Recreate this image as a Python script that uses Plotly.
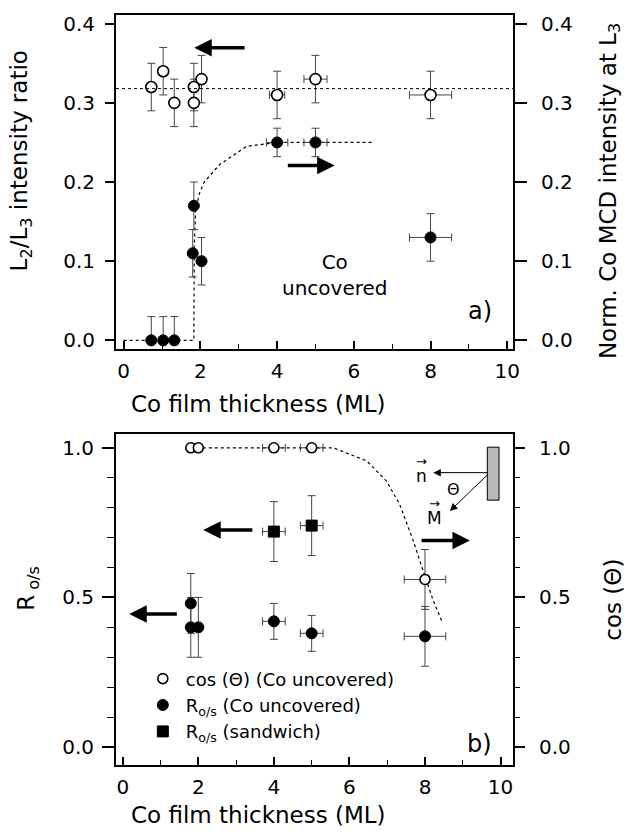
import plotly.graph_objects as go

FONT = "DejaVu Sans"

# ---------------- Panel a) data ----------------
# L2/L3 intensity ratio (open circles, left axis)
a_ratio_x = [0.72, 1.03, 1.32, 1.83, 1.83, 2.03, 4.0, 5.0, 8.0]
a_ratio_y = [0.32, 0.34, 0.30, 0.32, 0.30, 0.33, 0.31, 0.33, 0.31]
a_ratio_yerr = [0.03, 0.03, 0.03, 0.03, 0.03, 0.03, 0.03, 0.03, 0.03]
a_ratio_xerr = [0, 0, 0, 0, 0, 0, 0.2, 0.3, 0.55]
a_ratio_mean = [0.318]

# Norm. Co MCD intensity at L3 (filled circles, right axis)
a_mcd_x = [0.72, 1.03, 1.32, 1.83, 1.80, 2.03, 4.0, 5.0, 8.0]
a_mcd_y = [0.0, 0.0, 0.0, 0.17, 0.11, 0.10, 0.25, 0.25, 0.13]
a_mcd_yerr_up = [0.03, 0.03, 0.03, 0.03, 0.03, 0.03, 0.018, 0.018, 0.03]
a_mcd_yerr_dn = [0.0, 0.0, 0.0, 0.03, 0.03, 0.03, 0.018, 0.018, 0.03]
a_mcd_xerr = [0, 0, 0, 0, 0, 0, 0.28, 0.3, 0.55]

# guide-to-the-eye curve
a_fit_x = [0.0, 1.83, 1.84, 1.88, 1.97, 2.1, 2.5, 3.2, 4.0, 6.5]
a_fit_y = [0.0, 0.0, 0.12, 0.165, 0.185, 0.20, 0.222, 0.245, 0.25, 0.25]

# ---------------- Panel b) data ----------------
b_cos_x = [1.8, 2.0, 4.0, 5.0, 8.0]
b_cos_y = [1.0, 1.0, 1.0, 1.0, 0.56]
b_cos_yerr = [0, 0, 0, 0, 0.1]
b_cos_xerr = [0, 0, 0.3, 0.3, 0.55]

b_ros_x = [1.8, 1.8, 2.0, 4.0, 5.0, 8.0]
b_ros_y = [0.48, 0.40, 0.40, 0.42, 0.38, 0.37]
b_ros_yerr = [0.1, 0.1, 0.1, 0.06, 0.06, 0.1]
b_ros_xerr = [0, 0, 0, 0.3, 0.3, 0.55]

b_sand_x = [4.0, 5.0]
b_sand_y = [0.72, 0.74]
b_sand_yerr = [0.1, 0.1]
b_sand_xerr = [0.3, 0.3]

b_fit_x = [1.8, 5.0, 5.57, 6.46, 6.98, 7.33, 7.69, 7.95, 8.22, 8.44]
b_fit_y = [1.0, 1.0, 1.0, 0.956, 0.889, 0.811, 0.689, 0.589, 0.489, 0.422]

x_ticks = [0, 2, 4, 6, 8, 10]
a_y_ticks = [0.0, 0.1, 0.2, 0.3, 0.4]
b_y_ticks = [0.0, 0.5, 1.0]

ERR = "#444444"


def err(arr, minus=None, w=4):
    d = dict(type="data", array=arr, color=ERR, thickness=1, width=w)
    if minus is not None:
        d["symmetric"] = False
        d["arrayminus"] = minus
    return d


fig = go.Figure()

# ---- panel a traces ----
fig.add_trace(go.Scatter(x=a_fit_x, y=a_fit_y, mode="lines", xaxis="x", yaxis="y2",
                         line=dict(color="black", width=1.2, dash="3px,3px"),
                         showlegend=False, hoverinfo="skip"))
fig.add_trace(go.Scatter(x=a_ratio_x, y=a_ratio_y, mode="markers", xaxis="x", yaxis="y",
                         marker=dict(symbol="circle", size=11, color="white",
                                     line=dict(color="black", width=1.6)),
                         error_y=err(a_ratio_yerr), error_x=err(a_ratio_xerr),
                         showlegend=False))
fig.add_trace(go.Scatter(x=a_mcd_x, y=a_mcd_y, mode="markers", xaxis="x", yaxis="y2",
                         marker=dict(symbol="circle", size=11, color="black",
                                     line=dict(color="black", width=1)),
                         error_y=err(a_mcd_yerr_up, a_mcd_yerr_dn), error_x=err(a_mcd_xerr),
                         showlegend=False))

# ---- panel b traces ----
fig.add_trace(go.Scatter(x=b_fit_x, y=b_fit_y, mode="lines", xaxis="x2", yaxis="y4",
                         line=dict(color="black", width=1.2, dash="3px,3px"),
                         showlegend=False, hoverinfo="skip"))
fig.add_trace(go.Scatter(x=b_cos_x, y=b_cos_y, mode="markers", xaxis="x2", yaxis="y4",
                         name="cos (\u0398) (Co uncovered)",
                         marker=dict(symbol="circle", size=10, color="white",
                                     line=dict(color="black", width=1.6)),
                         error_y=err(b_cos_yerr), error_x=err(b_cos_xerr)))
fig.add_trace(go.Scatter(x=b_ros_x, y=b_ros_y, mode="markers", xaxis="x2", yaxis="y3",
                         name="R<sub>o/s</sub> (Co uncovered)",
                         marker=dict(symbol="circle", size=11, color="black",
                                     line=dict(color="black", width=1)),
                         error_y=err(b_ros_yerr), error_x=err(b_ros_xerr)))
fig.add_trace(go.Scatter(x=b_sand_x, y=b_sand_y, mode="markers", xaxis="x2", yaxis="y3",
                         name="R<sub>o/s</sub> (sandwich)",
                         marker=dict(symbol="square", size=11, color="black",
                                     line=dict(color="black", width=1)),
                         error_y=err(b_sand_yerr), error_x=err(b_sand_xerr)))

# mean ratio line (panel a)
for v in a_ratio_mean:
    fig.add_shape(type="line", xref="x domain", yref="y", x0=0, x1=1, y0=v, y1=v,
                  line=dict(color="black", width=1, dash="dot"))

# inset: sample sketch (panel b)
fig.add_shape(type="rect", xref="x2", yref="y4", x0=9.65, x1=9.96, y0=0.825, y1=1.002,
              fillcolor="#b8b8b8", line=dict(color="black", width=1))

xcommon = dict(showline=True, linewidth=2, linecolor="black", mirror=True,
               showgrid=False, zeroline=False, tickvals=x_ticks,
               ticks="inside", ticklen=8, tickwidth=1.5, tickcolor="black",
               ticklabelstandoff=3,
               minor=dict(dtick=1, tick0=0, ticks="inside", ticklen=5, tickwidth=1.2,
                          tickcolor="black", showgrid=False),
               tickfont=dict(family=FONT, size=20, color="black"))
ycommon = dict(showline=True, linewidth=2, linecolor="black", showgrid=False,
               zeroline=False, ticks="outside", tickwidth=1.5, tickcolor="black",
               tickformat=".1f", tickfont=dict(family=FONT, size=20, color="black"))

fig.update_layout(
    width=629, height=832,
    margin=dict(l=116, r=116, t=12, b=67),
    paper_bgcolor="white", plot_bgcolor="white",
    font=dict(family=FONT, size=19, color="black"),
    showlegend=True,
    legend=dict(x=0.06, y=0.1395, xanchor="left", yanchor="top",
                font=dict(family=FONT, size=18, color="black"), itemwidth=36,
                bgcolor="rgba(0,0,0,0)", borderwidth=0, tracegroupgap=0),
    xaxis=dict(domain=[0, 1], anchor="y", range=[-0.2, 10.15], **xcommon),
    yaxis=dict(domain=[0.5551, 1.0], anchor="x", range=[-0.0105, 0.411],
               tickvals=a_y_ticks, ticklen=9, ticklabelstandoff=6, **ycommon),
    yaxis2=dict(overlaying="y", side="right", anchor="x", range=[-0.0105, 0.411],
                tickvals=a_y_ticks, ticklen=12, ticklabelstandoff=10, **ycommon),
    xaxis2=dict(domain=[0, 1], anchor="y3", range=[-0.18, 10.33], **xcommon),
    yaxis3=dict(domain=[0, 0.4409], anchor="x2", range=[-0.06, 1.045],
                tickvals=b_y_ticks, ticklen=12, ticklabelstandoff=4,
                minor=dict(dtick=0.1, tick0=0, ticks="outside", ticklen=7, tickwidth=1.2,
                           tickcolor="black", showgrid=False),
                **ycommon),
    yaxis4=dict(overlaying="y3", side="right", anchor="x2", range=[-0.06, 1.045],
                tickvals=b_y_ticks, ticklen=10, ticklabelstandoff=10,
                minor=dict(dtick=0.1, tick0=0, ticks="outside", ticklen=5, tickwidth=1.2,
                           tickcolor="black", showgrid=False),
                **ycommon),
)

ann = []
TF = dict(family=FONT, size=23, color="black")
# axis titles
ann.append(dict(text="Co film thickness (ML)", xref="paper", yref="paper", x=0.359, y=0.482,
                showarrow=False, font=TF, xanchor="center", yanchor="middle"))
ann.append(dict(text="Co film thickness (ML)", xref="paper", yref="paper", x=0.359, y=-0.0664,
                showarrow=False, font=TF, xanchor="center", yanchor="middle"))
ann.append(dict(text="L<sub>2</sub>/L<sub>3</sub> intensity ratio", xref="paper", yref="paper",
                x=-0.237, y=0.806, textangle=-90, showarrow=False, font=TF,
                xanchor="center", yanchor="middle"))
ann.append(dict(text="Norm. Co MCD intensity at L<sub>3</sub>", xref="paper", yref="paper",
                x=1.244, y=0.765, textangle=-90, showarrow=False, font=TF,
                xanchor="center", yanchor="middle"))
ann.append(dict(text="R<sub> o/s</sub>", xref="paper", yref="paper",
                x=-0.222, y=0.236, textangle=-90, showarrow=False, font=TF,
                xanchor="center", yanchor="middle"))
ann.append(dict(text="cos (\u0398)", xref="paper", yref="paper",
                x=1.252, y=0.2205, textangle=-90, showarrow=False, font=TF,
                xanchor="center", yanchor="middle"))

# panel labels and text
ann.append(dict(text="Co<br>uncovered", xref="x", yref="y", x=5.5, y=0.083,
                showarrow=False, font=dict(family=FONT, size=20, color="black"),
                xanchor="center", yanchor="middle"))
ann.append(dict(text="a)", xref="x", yref="y", x=9.28, y=0.037, showarrow=False,
                font=dict(family=FONT, size=24, color="black"), xanchor="center", yanchor="middle"))
ann.append(dict(text="b)", xref="x2", yref="y3", x=9.45, y=0.01, showarrow=False,
                font=dict(family=FONT, size=24, color="black"), xanchor="center", yanchor="middle"))

# thick arrows pointing to axes
def big_arrow(xr, yr, x0, y0, x1, y1):
    return dict(text="", xref=xr, yref=yr, axref=xr, ayref=yr, x=x1, y=y1, ax=x0, ay=y0,
                showarrow=True, arrowhead=2, arrowsize=1, arrowwidth=3.5, arrowcolor="black",
                standoff=0, startstandoff=0)

ann.append(big_arrow("x", "y", 3.19, 0.3695, 1.84, 0.3695))
ann.append(big_arrow("x", "y", 4.24, 0.221, 5.50, 0.221))
ann.append(big_arrow("x2", "y3", 3.47, 0.725, 2.13, 0.725))
ann.append(big_arrow("x2", "y3", 1.47, 0.445, 0.17, 0.445))
ann.append(big_arrow("x2", "y3", 7.87, 0.69, 9.19, 0.69))

# inset vectors
def thin_arrow(x0, y0, x1, y1):
    return dict(text="", xref="x2", yref="y4", axref="x2", ayref="y4", x=x1, y=y1, ax=x0, ay=y0,
                showarrow=True, arrowhead=2, arrowsize=1.5, arrowwidth=1, arrowcolor="black",
                standoff=0, startstandoff=0)

ann.append(thin_arrow(9.70, 0.917, 8.22, 0.917))
ann.append(thin_arrow(9.70, 0.915, 8.66, 0.789))
SF = dict(family=FONT, size=17, color="black")
ann.append(dict(text="n", xref="x2", yref="y4", x=7.92, y=0.905, showarrow=False, font=SF))
ann.append(dict(text="\u2192", xref="x2", yref="y4", x=7.92, y=0.953, showarrow=False,
                font=dict(family=FONT, size=13, color="black")))
ann.append(dict(text="M", xref="x2", yref="y4", x=8.26, y=0.766, showarrow=False, font=SF))
ann.append(dict(text="\u2192", xref="x2", yref="y4", x=8.26, y=0.814, showarrow=False,
                font=dict(family=FONT, size=13, color="black")))
ann.append(dict(text="\u0398", xref="x2", yref="y4", x=8.75, y=0.862, showarrow=False,
                font=dict(family=FONT, size=16, color="black")))

fig.update_layout(annotations=ann)

fig.write_html("out.html", config={"displayModeBar": False},
               post_script="document.body.style.margin='0px';document.body.style.overflow='hidden';")
